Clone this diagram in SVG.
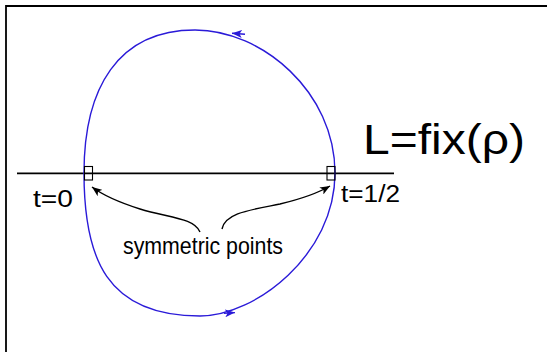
<svg xmlns="http://www.w3.org/2000/svg" width="547" height="352" viewBox="0 0 547 352">
<style>
.lbl{font-family:"Liberation Sans","DejaVu Sans",sans-serif;fill:#000}
.loop{fill:none;stroke:#2a1ad8;stroke-width:1.4}
.conn{fill:none;stroke:#000;stroke-width:1.4}
.sq{fill:none;stroke:#000;stroke-width:1.1}
</style>
<defs>
<marker id="bh" viewBox="0 0 10 8" refX="10" refY="4" markerWidth="10" markerHeight="8" markerUnits="userSpaceOnUse" orient="auto">
<path d="M0,0 L10,4 L0,8 L2.5,4 Z" fill="#2a1ad8"/>
</marker>
<marker id="kh" viewBox="0 0 10 8" refX="10" refY="4" markerWidth="10" markerHeight="8" markerUnits="userSpaceOnUse" orient="auto">
<path d="M0,0 L10,4 L0,8 L2.5,4 Z" fill="#000"/>
</marker>
</defs>
<rect width="547" height="352" fill="#fff"/>
<g id="frame"><path d="M6,352 V6 H547" fill="none" stroke="#000" stroke-width="1.8"/></g>
<g id="axis"><line x1="17" y1="173.3" x2="394" y2="173.3" stroke="#000" stroke-width="1.8"/></g>
<g id="loop">
<path class="loop" d="M84,173 C84,258 106,316 200,316 C255,316 335,255 335,173 C335,92 262,30 195,30 C118,30 84,88 84,173 Z"/>
<path class="loop" d="M224,313.4 L235,312.6" marker-end="url(#bh)"/>
<path class="loop" d="M245,34.2 L232,33.2" marker-end="url(#bh)"/>
</g>
<g id="node-t0-square"><rect class="sq" x="84.5" y="166.5" width="8" height="13.5"/></g>
<g id="node-thalf-square"><rect class="sq" x="327" y="166.5" width="8" height="13.5"/></g>
<g id="node-t0"><text class="lbl" x="33" y="207" font-size="24" textLength="40" lengthAdjust="spacingAndGlyphs">t=0</text></g>
<g id="node-thalf"><text class="lbl" x="341" y="202" font-size="23" textLength="59" lengthAdjust="spacingAndGlyphs">t=1/2</text></g>
<g id="node-L"><text class="lbl" x="363" y="154" font-size="43" textLength="162" lengthAdjust="spacingAndGlyphs">L=fix(ρ)</text></g>
<g id="node-sym"><text class="lbl" x="123" y="254" font-size="24" textLength="160" lengthAdjust="spacingAndGlyphs">symmetric points</text></g>
<g id="connectors">
<path class="conn" d="M200,232 C194,218 170,218 140,209 C118,202 104,196 92,187" marker-end="url(#kh)"/>
<path class="conn" d="M222,229 C225,213 250,210 280,204 C305,198 318,193 330,186" marker-end="url(#kh)"/>
</g>
</svg>
